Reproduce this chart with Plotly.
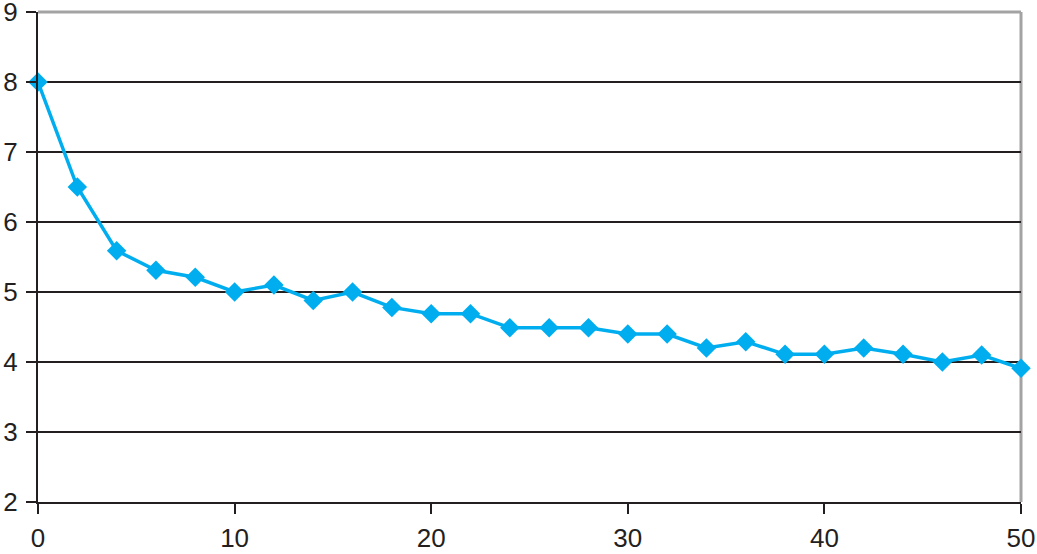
import plotly.graph_objects as go

x_vals = [0, 2, 4, 6, 8, 10, 12, 14, 16, 18, 20, 22, 24, 26, 28, 30, 32, 34, 36, 38, 40, 42, 44, 46, 48, 50]
y_vals = [8.0, 6.5, 5.59, 5.31, 5.21, 5.0, 5.1, 4.88, 5.0, 4.78, 4.69, 4.69, 4.49, 4.49, 4.49, 4.4, 4.4, 4.2, 4.29, 4.11, 4.11, 4.2, 4.11, 4.0, 4.1, 3.91]
x_ticks = [0, 10, 20, 30, 40, 50]
y_ticks = [2, 3, 4, 5, 6, 7, 8, 9]

blue = "#00AEEF"
ink = "#231F20"

fig = go.Figure()
fig.add_trace(go.Scatter(
    x=x_vals, y=y_vals, mode="lines+markers",
    line=dict(color=blue, width=3.5),
    marker=dict(symbol="diamond", size=15, color=blue),
    cliponaxis=False, showlegend=False,
))

fig.update_layout(
    width=1037, height=554,
    margin=dict(l=38, r=16, t=12, b=52),
    paper_bgcolor="white", plot_bgcolor="white",
    font=dict(family="Liberation Sans, Arial, sans-serif", size=26, color=ink),
    xaxis=dict(range=[0, 50], tickvals=x_ticks, showgrid=False, zeroline=False,
               showline=True, linecolor=ink, linewidth=2,
               ticks="outside", ticklen=10, tickwidth=2, tickcolor=ink,
               ticklabelstandoff=2, automargin=False, ticklabeloverflow="allow"),
    yaxis=dict(range=[2, 9], tickvals=y_ticks, showgrid=True, gridcolor=ink, gridwidth=2,
               zeroline=False, showline=True, linecolor=ink, linewidth=2,
               ticks="outside", ticklen=10, tickwidth=2, tickcolor=ink,
               ticklabelstandoff=3, automargin=False, ticklabeloverflow="allow"),
    shapes=[
        dict(type="line", xref="paper", yref="paper", x0=0, x1=1, y0=1, y1=1,
             line=dict(color="#A3A3A3", width=3), layer="between"),
        dict(type="line", xref="paper", yref="paper", x0=1, x1=1, y0=0, y1=1,
             line=dict(color="#A3A3A3", width=3), layer="between"),
    ],
)

fig.write_html(
    "out.html",
    config={"displayModeBar": False},
    post_script="document.body.style.margin='0';document.body.style.overflow='hidden';",
)
